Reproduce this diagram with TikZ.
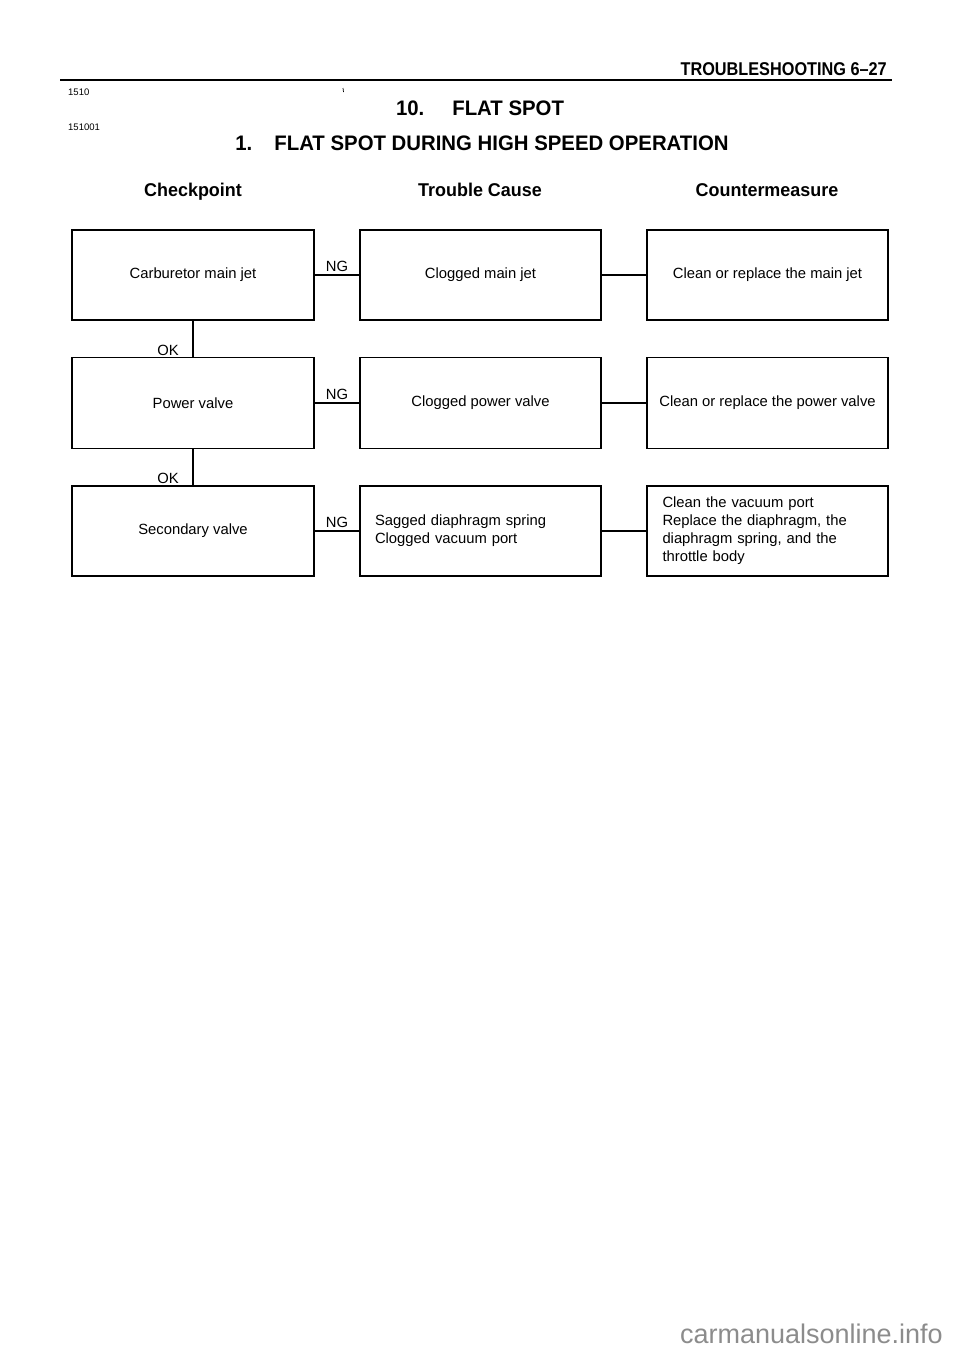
\documentclass[tikz,border=0pt]{standalone}
\usepackage{fontspec}
\setmainfont{Liberation Sans}
\newfontfamily\headfont[FakeStretch=0.97]{Liberation Sans}
\newfontfamily\pagefont[FakeStretch=0.88]{Liberation Sans}
\begin{document}
\begin{tikzpicture}[x=1pt,y=-1pt,
  box/.style={draw=black, line width=1.2pt, minimum width=242pt, minimum height=90pt, inner sep=0pt, font=\fontsize{14.8}{18}\selectfont},
  conn/.style={draw=black, line width=1.2pt},
  lbl/.style={font=\fontsize{14.8}{16}\selectfont, inner sep=0pt},
  colhead/.style={font=\headfont\bfseries\fontsize{18.5}{22}\selectfont, inner sep=0pt, anchor=base},
  title/.style={font=\headfont\bfseries\fontsize{21}{26}\selectfont, inner sep=0pt, anchor=base},
  small/.style={font=\fontsize{9.5}{11}\selectfont, inner sep=0pt, anchor=west}]
\path[fill=white,use as bounding box] (0,0) rectangle (960,1358);
% header
\node[font=\pagefont\bfseries\fontsize{18.5}{22}\selectfont, inner sep=0pt, anchor=base east] (pagehead) at (887,75) {TROUBLESHOOTING 6–27};
\coordinate (ruleL) at (60,80);
\coordinate (ruleR) at (892,80);
\draw[line width=2.4pt] (ruleL) -- (ruleR);
\node[small] (c1510) at (68,92) {1510};
\node[small] (c151001) at (68,127) {151001};
\draw[line width=0.7pt] (343,88) -- (343.5,92);
\node[title] (t1) at (480,115) {10.\hspace{28pt}FLAT SPOT};
\node[title] (t2) at (482,150) {1.\hspace{22pt}FLAT SPOT DURING HIGH SPEED OPERATION};
\node[colhead] (h1) at (193,196) {Checkpoint};
\node[colhead] (h2) at (480,196) {Trouble Cause};
\node[colhead] (h3) at (767,196) {Countermeasure};
% row 1
\node[box] (cp1) at (193,275) {Carburetor main jet};
\node[box, minimum width=241pt] (tc1) at (480.5,275) {Clogged main jet};
\node[box, minimum width=241pt] (cm1) at (767.5,275) {Clean or replace the main jet};
% row 2
\node[box, minimum height=91pt] (cp2) at (193,403) {Power valve};
\node[box, minimum width=241pt, minimum height=91pt] (tc2) at (480.5,403) {Clogged power valve};
\node[box, minimum width=241pt, minimum height=91pt] (cm2) at (767.5,403) {Clean or replace the power valve};
% row 3
\node[box] (cp3) at (193,531) {Secondary valve};
\node[box, minimum width=241pt, align=left, text width=211pt] (tc3) at (480.5,531) {Sagged diaphragm spring\\Clogged vacuum port};
\node[box, minimum width=241pt, align=left, text width=210pt] (cm3) at (767.5,531) {Clean the vacuum port\\Replace the diaphragm, the\\diaphragm spring, and the\\throttle body};
% connectors
\draw[conn] (cp1.east) -- node[lbl, above=3pt] {NG} (tc1.west);
\draw[conn] (tc1.east) -- (cm1.west);
\draw[conn] (cp2.east) -- node[lbl, above=3pt] {NG} (tc2.west);
\draw[conn] (tc2.east) -- (cm2.west);
\draw[conn] (cp3.east) -- node[lbl, above=3pt] {NG} (tc3.west);
\draw[conn] (tc3.east) -- (cm3.west);
\draw[conn] (cp1.south) -- (cp2.north);
\draw[conn] (cp2.south) -- (cp3.north);
\node[lbl, anchor=south] (ok1) at (168,356) {OK};
\node[lbl, anchor=south] (ok2) at (168,484) {OK};
% watermark
\node[font=\fontsize{27}{30}\selectfont, text=black!45, inner sep=0pt, anchor=east] (wm) at (943,1334) {carmanualsonline.info};
\end{tikzpicture}
\end{document}
